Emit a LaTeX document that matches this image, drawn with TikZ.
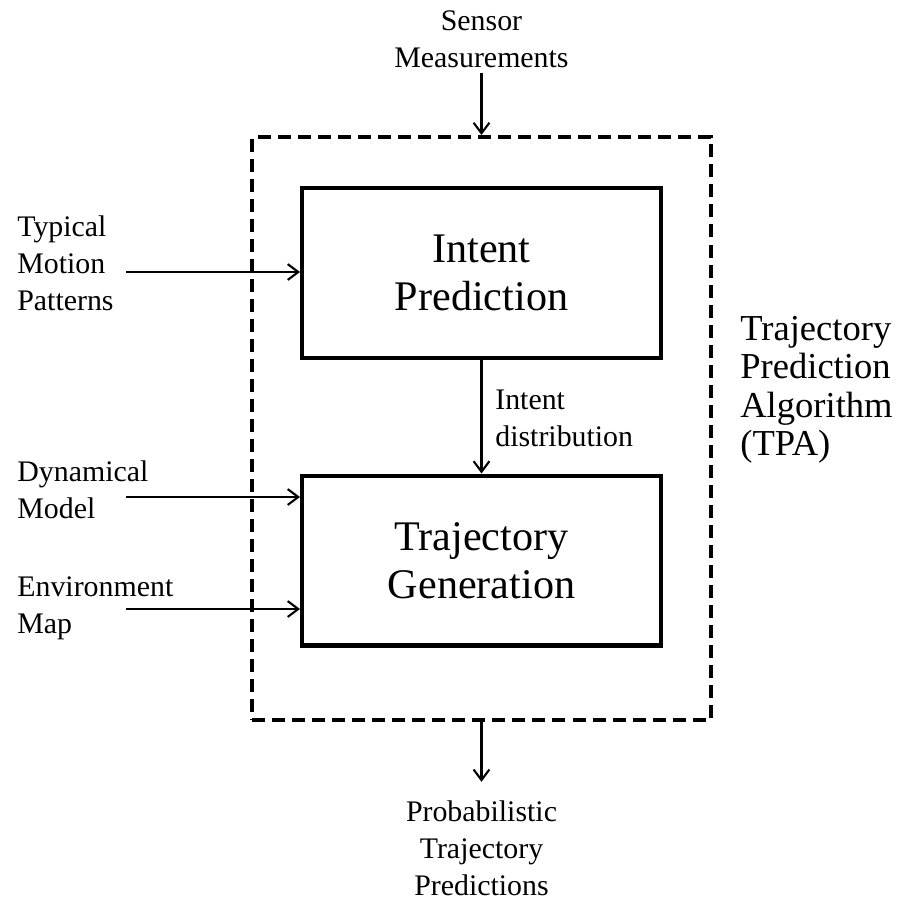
\documentclass[tikz,border=0pt]{standalone}
\usepackage{fontspec}
\setmainfont{Liberation Serif}
\usetikzlibrary{arrows.meta, positioning}

\tikzset{
	block/.style={draw, line width=2.3pt, minimum width=7.18cm, minimum height=3.4cm, align=center, font=\fontsize{24}{27.5}\selectfont},
	tpabox/.style={draw, line width=2.3pt, dash pattern=on 7.4pt off 4pt, minimum width=9.18cm, minimum height=11.66cm},
	lbl/.style={font=\fontsize{17}{21}\selectfont, inner sep=0pt},
	flow/.style={-{Straight Barb[length=6pt,width=9pt]}, line width=1.2pt}
}

\begin{document}
\begin{tikzpicture}[x=0.02cm, y=-0.02cm]
		\useasboundingbox (0,0) rectangle (899,900);

		% Draw the dashed frame round the whole algorithm
		\node[tpabox] (tpa) at (481.5,428.5) {};

		% Draw the two stages
		\node[block] (intent) at (481.5,273) {Intent\\Prediction};
		\node[block] (traj) at (481.5,560.5) {Trajectory\\Generation};

		% Add labels for the inputs and the output
		\node[lbl, align=center] (sensor) at (481.5,39) {Sensor\\Measurements};
		\node[lbl, align=left, anchor=west] (motion) at (17,263) {Typical\\Motion\\Patterns};
		\node[lbl, align=left, anchor=west] (dynmodel) at (17,490) {Dynamical\\Model};
		\node[lbl, align=left, anchor=west] (envmap) at (17,608) {Environment\\Map};
		\node[lbl, align=left, anchor=west] (intentlbl) at (495,418) {Intent\\distribution};
		\node[lbl, align=center] (output) at (481.5,848) {Probabilistic\\Trajectory\\Predictions};

		% Add the outer label for the algorithm
		\node[inner sep=0pt, align=left, anchor=west, font=\fontsize{20.8}{21.9}\selectfont] (tpalbl) at (740,390) {Trajectory\\Prediction\\Algorithm\\(TPA)};

		% Add the arrows
		\coordinate (in1) at (126,272);
		\coordinate (in2) at (126,497);
		\coordinate (in3) at (126,609);
		\draw[flow] (in1) -- (in1 -| intent.west);
		\draw[flow] (in2) -- (in2 -| traj.west);
		\draw[flow] (in3) -- (in3 -| traj.west);
		\draw[flow, shorten <=3pt] (sensor.south) -- (tpa.north);
		\draw[flow] (intent.south) -- (traj.north);
		\draw[flow, shorten >=10.5pt] (tpa.south) -- (output.north);

	\end{tikzpicture}
\end{document}
